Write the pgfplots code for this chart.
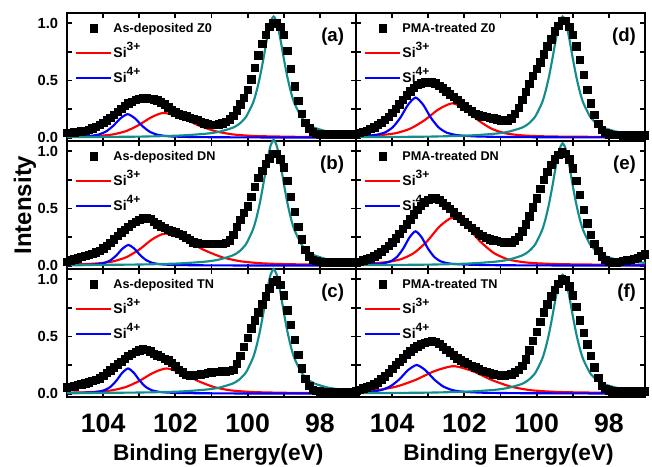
\documentclass[border=0pt]{standalone}
\usepackage{fontspec}
\setmainfont{Liberation Sans}
\usepackage{pgfplots}
\pgfplotsset{compat=1.18}
\usepackage{pgfplotstable}
\usepgfplotslibrary{groupplots}
\usetikzlibrary{calc}
\definecolor{cTeal}{HTML}{128C8C}
\definecolor{cRed}{HTML}{FF0000}
\definecolor{cBlue}{HTML}{0000FF}

% measured spectra, columns a..f = panels (a)..(f)
\pgfplotstableread{
x a b c d e f
105.0 0.040 0.035 0.055 0.030 0.030 0.025
104.9 0.040 0.045 0.060 0.040 0.035 0.035
104.8 0.045 0.055 0.065 0.050 0.045 0.045
104.7 0.050 0.065 0.075 0.060 0.055 0.055
104.6 0.055 0.075 0.080 0.075 0.065 0.070
104.5 0.060 0.085 0.090 0.090 0.080 0.080
104.4 0.070 0.095 0.100 0.110 0.100 0.100
104.3 0.080 0.105 0.110 0.130 0.120 0.125
104.2 0.095 0.115 0.120 0.155 0.145 0.150
104.1 0.110 0.130 0.135 0.180 0.175 0.180
104.0 0.130 0.150 0.155 0.215 0.205 0.215
103.9 0.150 0.175 0.180 0.250 0.240 0.250
103.8 0.175 0.200 0.205 0.290 0.280 0.280
103.7 0.200 0.230 0.230 0.330 0.320 0.310
103.6 0.225 0.260 0.255 0.370 0.360 0.345
103.5 0.250 0.290 0.280 0.405 0.405 0.370
103.4 0.280 0.315 0.305 0.435 0.450 0.395
103.3 0.300 0.340 0.330 0.460 0.490 0.415
103.2 0.315 0.365 0.350 0.475 0.525 0.430
103.1 0.330 0.385 0.365 0.485 0.555 0.445
103.0 0.340 0.400 0.380 0.490 0.575 0.455
102.9 0.345 0.415 0.390 0.485 0.590 0.460
102.8 0.345 0.420 0.385 0.475 0.590 0.455
102.7 0.340 0.410 0.370 0.455 0.575 0.435
102.6 0.335 0.385 0.350 0.430 0.550 0.410
102.5 0.325 0.360 0.335 0.405 0.525 0.385
102.4 0.310 0.345 0.320 0.380 0.495 0.360
102.3 0.290 0.330 0.305 0.355 0.465 0.335
102.2 0.265 0.315 0.290 0.330 0.435 0.310
102.1 0.240 0.300 0.270 0.300 0.410 0.290
102.0 0.220 0.290 0.240 0.275 0.385 0.275
101.9 0.205 0.280 0.210 0.250 0.355 0.260
101.8 0.195 0.265 0.185 0.230 0.330 0.245
101.7 0.185 0.245 0.165 0.210 0.305 0.230
101.6 0.175 0.225 0.160 0.195 0.280 0.215
101.5 0.165 0.205 0.160 0.185 0.260 0.200
101.4 0.155 0.195 0.165 0.180 0.245 0.190
101.3 0.140 0.190 0.170 0.175 0.230 0.180
101.2 0.125 0.190 0.175 0.170 0.220 0.170
101.1 0.115 0.190 0.180 0.160 0.215 0.165
101.0 0.110 0.190 0.185 0.150 0.210 0.160
100.9 0.110 0.190 0.190 0.145 0.205 0.160
100.8 0.115 0.190 0.190 0.150 0.200 0.165
100.7 0.125 0.190 0.195 0.170 0.205 0.170
100.6 0.140 0.200 0.195 0.210 0.220 0.185
100.5 0.160 0.220 0.200 0.260 0.250 0.210
100.4 0.190 0.270 0.210 0.330 0.300 0.245
100.3 0.240 0.340 0.260 0.400 0.360 0.300
100.2 0.290 0.400 0.330 0.470 0.430 0.380
100.1 0.350 0.460 0.410 0.540 0.510 0.460
100.0 0.420 0.520 0.490 0.600 0.590 0.540
99.9  0.510 0.600 0.570 0.660 0.670 0.630
99.8  0.610 0.690 0.640 0.730 0.750 0.710
99.7  0.720 0.770 0.710 0.800 0.820 0.780
99.6  0.820 0.830 0.780 0.860 0.880 0.850
99.5  0.900 0.890 0.850 0.930 0.930 0.910
99.4  0.970 0.940 0.920 0.980 0.970 0.960
99.3  1.000 0.980 0.980 1.020 0.990 1.000
99.2  1.000 0.980 0.990 1.020 0.980 0.990
99.1  0.970 0.930 0.950 0.970 0.930 0.940
99.0  0.900 0.860 0.860 0.900 0.850 0.860
98.9  0.760 0.740 0.730 0.800 0.740 0.760
98.8  0.600 0.600 0.600 0.680 0.620 0.640
98.7  0.450 0.470 0.470 0.550 0.490 0.530
98.6  0.320 0.340 0.340 0.420 0.370 0.430
98.5  0.210 0.230 0.220 0.300 0.270 0.330
98.4  0.130 0.140 0.130 0.200 0.190 0.230
98.3  0.080 0.080 0.070 0.120 0.130 0.140
98.2  0.050 0.050 0.035 0.070 0.080 0.070
98.1  0.035 0.040 0.025 0.040 0.050 0.040
98.0  0.030 0.035 0.020 0.030 0.035 0.030
97.9  0.030 0.030 0.015 0.025 0.030 0.020
97.8  0.030 0.030 0.015 0.025 0.030 0.020
97.7  0.030 0.030 0.015 0.025 0.035 0.020
97.6  0.030 0.030 0.015 0.020 0.040 0.020
97.5  0.030 0.030 0.015 0.020 0.045 0.020
97.4  0.030 0.030 0.015 0.020 0.050 0.020
97.3  0.030 0.030 0.015 0.020 0.060 0.020
97.2  0.030 0.030 0.015 0.020 0.070 0.020
97.1  0.030 0.030 0.015 0.020 0.085 0.020
97.0  0.030 0.030 0.015 0.020 0.100 0.020
}\xpsdata

% Si0 fit component (teal), columns a..f
\pgfplotstableread{
x a b c d e f
97.00  0.023 0.024 0.024 0.023 0.024 0.023
97.38  0.033 0.034 0.034 0.033 0.033 0.032
97.76  0.050 0.052 0.051 0.050 0.050 0.049
98.14  0.085 0.088 0.087 0.085 0.086 0.083
98.33  0.120 0.124 0.123 0.120 0.121 0.118
98.52  0.183 0.190 0.188 0.183 0.185 0.179
98.71  0.305 0.317 0.314 0.305 0.308 0.300
98.805 0.403 0.418 0.414 0.403 0.407 0.395
98.90  0.530 0.550 0.545 0.530 0.535 0.520
98.995 0.686 0.712 0.705 0.686 0.692 0.673
99.09  0.856 0.889 0.881 0.856 0.865 0.840
99.185 1.001 1.038 1.029 1.001 1.010 0.982
99.28  1.060 1.100 1.090 1.060 1.070 1.040
99.375 1.001 1.038 1.029 1.001 1.010 0.982
99.47  0.856 0.889 0.881 0.856 0.865 0.840
99.565 0.686 0.712 0.705 0.686 0.692 0.673
99.66  0.530 0.550 0.545 0.530 0.535 0.520
99.755 0.403 0.418 0.414 0.403 0.407 0.395
99.85  0.305 0.317 0.314 0.305 0.308 0.300
100.04 0.183 0.190 0.188 0.183 0.185 0.179
100.23 0.120 0.124 0.123 0.120 0.121 0.118
100.42 0.085 0.088 0.087 0.085 0.086 0.083
100.80 0.050 0.052 0.051 0.050 0.050 0.049
101.18 0.033 0.034 0.034 0.033 0.033 0.032
101.94 0.017 0.018 0.017 0.017 0.017 0.017
103.08 0.008 0.009 0.009 0.008 0.008 0.008
105.00 0.004 0.004 0.004 0.004 0.004 0.004
}\sizero

\pgfplotsset{
  dat/.style={black, only marks, mark=square*, mark size=2.8pt,
    legend image code/.code={\draw[##1, only marks] plot coordinates {(13pt,0pt)};}},
  fitline/.style={line width=1.6pt, smooth, tension=0.4, no markers,
    legend image code/.code={\draw[##1] (0pt,0pt) -- (26pt,0pt);}},
  s3/.style={fitline, cRed},
  s4/.style={fitline, cBlue},
  s0/.style={fitline, cTeal, forget plot},
}
\tikzset{plab/.style={anchor=east, font=\fontsize{14}{16}\selectfont\bfseries}}
\newcommand{\lgtxt}[1]{\fontsize{9.5}{11}\selectfont\bfseries #1}
\newcommand{\lgsi}[1]{\fontsize{10.5}{12}\selectfont\bfseries Si\raisebox{0.5em}{\fontsize{9}{10}\selectfont\bfseries #1}}

\begin{document}
\begin{tikzpicture}
\begin{groupplot}[
  group style={group size=2 by 3, horizontal sep=0pt, vertical sep=0pt,
    xticklabels at=edge bottom, yticklabels at=edge left},
  scale only axis, width=216.75pt, height=96pt,
  x dir=reverse, xmin=97, xmax=105, ymin=-0.03, ymax=1.09,
  xtick={98,100,102,104}, minor xtick={97,99,101,103,105},
  ytick={0,0.5,1}, minor ytick={0.25,0.75},
  tick align=inside, major tick length=4pt, minor tick length=3.5pt,
  tick style={line width=1.4pt, black},
  axis line style={line width=2.2pt},
  clip=false,
  /pgf/number format/assume math mode=true,
  yticklabel style={font=\fontsize{11}{12}\selectfont\bfseries, inner sep=0pt, xshift=-6.5pt,
    /pgf/number format/fixed, /pgf/number format/fixed zerofill, /pgf/number format/precision=1},
  xticklabel style={font=\fontsize{20}{22}\selectfont\bfseries, anchor=center, yshift=-19.5pt},
  legend cell align=left,
  legend style={at={(0.028,0.945)}, anchor=north west, draw=none, fill=none,
    inner xsep=0pt, inner ysep=0pt, row sep=6.75pt,
    nodes={inner sep=1pt, text height=8pt, text depth=2pt}},
]
% (a)
\nextgroupplot
\addplot[dat] table[y=a]{\xpsdata};
\addlegendentry{\lgtxt{As-deposited Z0}}
\addplot[s3] coordinates {(97.0,0.003)(98.52,0.006)(99.47,0.011)(99.945,0.016)(100.42,0.028)(100.895,0.056)(101.37,0.108)(101.845,0.177)(102.32,0.216)(102.67,0.177)(103.02,0.108)(103.37,0.056)(103.72,0.028)(104.07,0.016)(104.42,0.011)(105.0,0.007)};
\addlegendentry{\lgsi{3+}}
\addplot[s4] coordinates {(97.0,0.0005)(99.32,0.001)(100.92,0.003)(101.72,0.006)(102.12,0.010)(102.32,0.016)(102.52,0.027)(102.72,0.053)(102.92,0.103)(103.12,0.168)(103.32,0.205)(103.52,0.168)(103.72,0.103)(103.92,0.053)(104.12,0.027)(104.32,0.016)(104.52,0.010)(105.0,0.005)};
\addlegendentry{\lgsi{4+}}
\addplot[s0] table[y=a]{\sizero};
\node[plab] at (axis description cs:0.975,0.816) {(a)};
% (d)
\nextgroupplot
\addplot[dat] table[y=d]{\xpsdata};
\addlegendentry{\lgtxt{PMA-treated Z0}}
\addplot[s3] coordinates {(97.0,0.003)(99.45,0.009)(100.17,0.015)(100.53,0.023)(100.89,0.039)(101.25,0.078)(101.61,0.15)(101.97,0.246)(102.33,0.30)(102.72,0.246)(103.11,0.15)(103.50,0.078)(103.89,0.039)(104.28,0.023)(104.67,0.015)(105.0,0.012)};
\addlegendentry{\lgsi{3+}}
\addplot[s4] coordinates {(97.0,0.0008)(99.15,0.002)(100.83,0.005)(101.67,0.010)(102.09,0.018)(102.30,0.027)(102.51,0.046)(102.72,0.091)(102.93,0.175)(103.14,0.287)(103.35,0.35)(103.56,0.287)(103.77,0.175)(103.98,0.091)(104.19,0.046)(104.40,0.027)(104.61,0.018)(105.0,0.0105)};
\addlegendentry{\lgsi{4+}}
\addplot[s0] table[y=d]{\sizero};
\node[plab] at (axis description cs:0.985,0.816) {(d)};
% (b)
\nextgroupplot
\addplot[dat] table[y=b]{\xpsdata};
\addlegendentry{\lgtxt{As-deposited DN}}
\addplot[s3] coordinates {(97.0,0.005)(98.08,0.008)(99.13,0.014)(99.655,0.021)(100.18,0.037)(100.705,0.073)(101.23,0.14)(101.755,0.230)(102.28,0.28)(102.64,0.230)(103.0,0.14)(103.36,0.073)(103.72,0.037)(104.08,0.021)(104.44,0.014)(105.0,0.009)};
\addlegendentry{\lgsi{3+}}
\addplot[s4] coordinates {(97.0,0.0003)(100.0,0.001)(101.32,0.0025)(101.98,0.005)(102.31,0.009)(102.475,0.014)(102.64,0.024)(102.805,0.047)(102.97,0.09)(103.135,0.148)(103.30,0.18)(103.465,0.148)(103.63,0.09)(103.795,0.047)(103.96,0.024)(104.125,0.014)(104.29,0.009)(104.62,0.005)(105.0,0.003)};
\addlegendentry{\lgsi{4+}}
\addplot[s0] table[y=b]{\sizero};
\node[plab] at (axis description cs:0.975,0.816) {(b)};
\node[rotate=90, font=\fontsize{18}{20}\selectfont\bfseries] at ([xshift=-31.5pt]axis description cs:0,0.5) {Intensity};
% (e)
\nextgroupplot
\addplot[dat] table[y=e]{\xpsdata};
\addlegendentry{\lgtxt{PMA-treated DN}}
\addplot[s3] coordinates {(97.0,0.004)(99.28,0.012)(100.04,0.021)(100.42,0.032)(100.80,0.055)(101.18,0.109)(101.56,0.21)(101.94,0.344)(102.32,0.42)(102.68,0.344)(103.04,0.21)(103.40,0.109)(103.76,0.055)(104.12,0.032)(104.48,0.021)(105.0,0.014)};
\addlegendentry{\lgsi{3+}}
\addplot[s4] coordinates {(97.0,0.0005)(99.95,0.0015)(101.31,0.004)(101.99,0.009)(102.33,0.015)(102.50,0.023)(102.67,0.039)(102.84,0.078)(103.01,0.15)(103.18,0.246)(103.35,0.30)(103.52,0.246)(103.69,0.15)(103.86,0.078)(104.03,0.039)(104.20,0.023)(104.37,0.015)(104.71,0.009)(105.0,0.006)};
\addlegendentry{\lgsi{4+}}
\addplot[s0] table[y=e]{\sizero};
\node[plab] at (axis description cs:0.985,0.816) {(e)};
% (c)
\nextgroupplot
\addplot[dat] table[y=c]{\xpsdata};
\addlegendentry{\lgtxt{As-deposited TN}}
\addplot[s3] coordinates {(97.0,0.003)(98.73,0.006)(99.61,0.011)(100.05,0.017)(100.49,0.029)(100.93,0.057)(101.37,0.11)(101.81,0.180)(102.25,0.22)(102.625,0.180)(103.0,0.11)(103.375,0.057)(103.75,0.029)(104.125,0.017)(104.5,0.011)(105.0,0.008)};
\addlegendentry{\lgsi{3+}}
\addplot[s4] coordinates {(97.0,0.0003)(100.01,0.001)(101.33,0.003)(101.99,0.006)(102.32,0.011)(102.485,0.017)(102.65,0.029)(102.815,0.057)(102.98,0.11)(103.145,0.180)(103.31,0.22)(103.475,0.180)(103.64,0.11)(103.805,0.057)(103.97,0.029)(104.135,0.017)(104.30,0.011)(104.63,0.006)(105.0,0.004)};
\addlegendentry{\lgsi{4+}}
\addplot[s0] table[y=c]{\sizero};
\node[plab] at (axis description cs:0.975,0.816) {(c)};
\node[font=\fontsize{17}{19}\selectfont\bfseries] at ([xshift=5pt,yshift=-43.5pt]axis description cs:0.5,0) {Binding Energy(eV)};
% (f)
\nextgroupplot
\addplot[dat] table[y=f]{\xpsdata};
\addlegendentry{\lgtxt{PMA-treated TN}}
\addplot[s3] coordinates {(97.0,0.0045)(98.10,0.007)(99.15,0.012)(99.675,0.018)(100.20,0.031)(100.725,0.062)(101.25,0.12)(101.775,0.197)(102.3,0.24)(102.825,0.197)(103.35,0.12)(103.875,0.062)(104.40,0.031)(104.925,0.018)(105.0,0.017)};
\addlegendentry{\lgsi{3+}}
\addplot[s4] coordinates {(97.0,0.0007)(98.52,0.0013)(100.44,0.0035)(101.40,0.007)(101.88,0.013)(102.12,0.019)(102.36,0.033)(102.60,0.065)(102.84,0.125)(103.08,0.205)(103.32,0.25)(103.56,0.205)(103.80,0.125)(104.04,0.065)(104.28,0.033)(104.52,0.019)(104.76,0.013)(105.0,0.0095)};
\addlegendentry{\lgsi{4+}}
\addplot[s0] table[y=f]{\sizero};
\node[plab] at (axis description cs:0.985,0.816) {(f)};
\node[font=\fontsize{17}{19}\selectfont\bfseries] at ([xshift=6pt,yshift=-43.5pt]axis description cs:0.5,0) {Binding Energy(eV)};
\end{groupplot}
\pgfresetboundingbox
\path ($(group c1r1.north west)+(-50.25pt,9.75pt)$) rectangle ($(group c2r3.south east)+(5.25pt,-51.75pt)$);
\end{tikzpicture}
\end{document}
